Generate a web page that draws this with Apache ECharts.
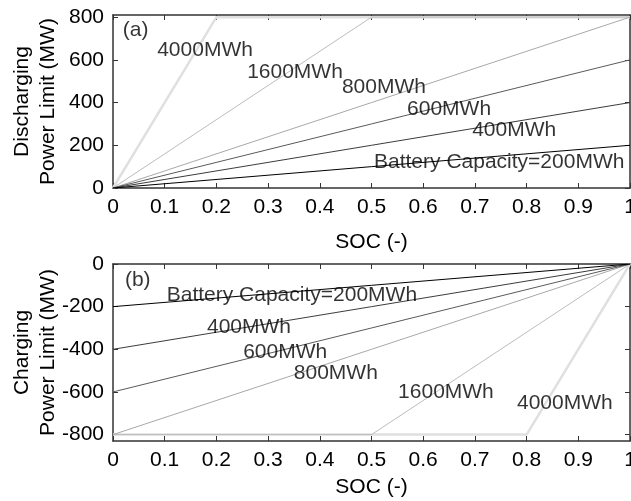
<!DOCTYPE html>
<html><head><meta charset="utf-8">
<script src="https://cdn.jsdelivr.net/npm/echarts@6/dist/echarts.min.js"></script>
<style>html,body{margin:0;padding:0;background:#fff}#c{width:631px;height:501px}</style>
</head><body><div id="c"></div>
<script>
// Battery capacities (MWh)
const capacities = [200, 400, 600, 800, 1600, 4000];
// Discharging power limit vertices [SOC, MW]
const dis200 = [[0, 0], [1, 200]];
const dis400 = [[0, 0], [1, 400]];
const dis600 = [[0, 0], [1, 600]];
const dis800 = [[0, 0], [1, 800]];
const dis1600 = [[0, 0], [0.5, 800], [1, 800]];
const dis4000 = [[0, 0], [0.2, 800], [1, 800]];
// Charging power limit vertices [SOC, MW]
const chg200 = [[0, -200], [1, 0]];
const chg400 = [[0, -400], [1, 0]];
const chg600 = [[0, -600], [1, 0]];
const chg800 = [[0, -800], [1, 0]];
const chg1600 = [[0, -800], [0.5, -800], [1, 0]];
const chg4000 = [[0, -800], [0.8, -800], [1, 0]];
// Tick labels
const xTicks = ['0','0.1','0.2','0.3','0.4','0.5','0.6','0.7','0.8','0.9','1'];
const yTicksA = ['0','200','400','600','800'];
const yTicksB = ['-800','-600','-400','-200','0'];
// Text annotations [SOC, MW, text]
const labelsA = [[0.019, 740, '(a)'], [0.178, 646, '4000MWh'], [0.352, 543, '1600MWh'], [0.524, 473, '800MWh'], [0.650, 370, '600MWh'], [0.776, 272, '400MWh'], [0.747, 122, 'Battery Capacity=200MWh']];
const labelsB = [[0.023, -75, '(b)'], [0.346, -145, 'Battery Capacity=200MWh'], [0.263, -295, '400MWh'], [0.333, -413, '600MWh'], [0.431, -511, '800MWh'], [0.644, -600, '1600MWh'], [0.874, -652, '4000MWh']];

const disData = [dis200, dis400, dis600, dis800, dis1600, dis4000];
const chgData = [chg200, chg400, chg600, chg800, chg1600, chg4000];
const colors = ['#000000', '#3c3c3c', '#5a5a5a', '#a8a8a8', '#bcbcbc', '#e0e0e0'];
const widths = [1, 1, 1, 1, 1, 2.5];
const FONT = 'Liberation Sans, Arial, sans-serif';
const FS = 21;
const frame = '#333';

function xAx(grid, pos, show, gap) {
  return {
    type: 'value', gridIndex: grid, min: 0, max: 1, interval: 0.1, position: pos,
    axisLine: {show: true, onZero: false, lineStyle: {color: frame, width: 1.5}},
    axisTick: {show: true, inside: true, length: 5, lineStyle: {color: frame}},
    splitLine: {show: false},
    axisLabel: {show: show, color: '#000', fontSize: FS, fontFamily: FONT, margin: 9,
      formatter: v => xTicks[Math.round(v * 10)]},
    name: show ? 'SOC (-)' : '', nameLocation: 'middle', nameGap: gap || 40, nameMoveOverlap: false,
    nameTextStyle: {color: '#000', fontSize: FS, fontFamily: FONT}
  };
}
function yAx(grid, pos, show, min, max, ticks, name) {
  return {
    type: 'value', gridIndex: grid, min: min, max: max, position: pos,
    axisLine: {show: true, onZero: false, lineStyle: {color: frame, width: 1.5}},
    axisTick: {show: true, inside: true, length: 5, lineStyle: {color: frame},
      customValues: ticks.map(Number)},
    axisLabel: {show: show, color: '#000', fontSize: FS, fontFamily: FONT, margin: 9,
      customValues: ticks.map(Number), formatter: v => String(v)},
    splitLine: {show: false},
    name: show ? name : '', nameLocation: 'middle', nameGap: 52, nameRotate: 90, nameMoveOverlap: false,
    nameTextStyle: {color: '#000', fontSize: FS, fontFamily: FONT, lineHeight: 26}
  };
}

const series = [];
disData.forEach((d, i) => series.push({type: 'line', xAxisIndex: 0, yAxisIndex: 0, data: d, symbol: 'none',
  lineStyle: {color: colors[i], width: widths[i]}, z: 2 + (5 - i), silent: true, animation: false}));
chgData.forEach((d, i) => series.push({type: 'line', xAxisIndex: 2, yAxisIndex: 2, data: d, symbol: 'none',
  lineStyle: {color: colors[i], width: widths[i]}, z: 2 + (5 - i), silent: true, animation: false}));
function lab(arr, xi, yi) {
  return {type: 'scatter', xAxisIndex: xi, yAxisIndex: yi, symbolSize: 0, z: 10, silent: true, animation: false,
    data: arr.map(a => ({value: [a[0], a[1]], name: a[2]})),
    label: {show: true, position: 'inside', formatter: p => p.name, color: '#000', fontSize: FS, fontFamily: FONT,
      align: 'center', verticalAlign: 'middle'}};
}
series.push(lab(labelsA.slice(1), 0, 0));
series.push(lab(labelsB.slice(1), 2, 2));
function letter(arr, xi, yi) {
  return {type: 'scatter', xAxisIndex: xi, yAxisIndex: yi, symbolSize: 0, z: 10, silent: true, animation: false,
    data: [{value: [arr[0], arr[1]], name: arr[2]}],
    label: {show: true, position: 'right', distance: 0, formatter: p => p.name, color: '#000', fontSize: FS, fontFamily: FONT}};
}
series.push(letter(labelsA[0], 0, 0));
series.push(letter(labelsB[0], 2, 2));

const chart = echarts.init(document.getElementById('c'), null, {renderer: 'canvas'});
chart.setOption({
  animation: false,
  backgroundColor: '#fff',
  grid: [
    {left: 113, top: 15, width: 517, height: 173, containLabel: false, outerBoundsMode: 'none'},
    {left: 113, top: 264, width: 517, height: 177, containLabel: false, outerBoundsMode: 'none'}
  ],
  xAxis: [xAx(0, 'bottom', true, 44), xAx(0, 'top', false), xAx(1, 'bottom', true, 36), xAx(1, 'top', false)],
  yAxis: [yAx(0, 'left', true, 0, 810, yTicksA, 'Discharging\nPower Limit (MW)'), yAx(0, 'right', false, 0, 810, yTicksA, ''),
          yAx(1, 'left', true, -830, 0, yTicksB, 'Charging\nPower Limit (MW)'), yAx(1, 'right', false, -830, 0, yTicksB, '')],
  series: series
});
</script></body></html>
